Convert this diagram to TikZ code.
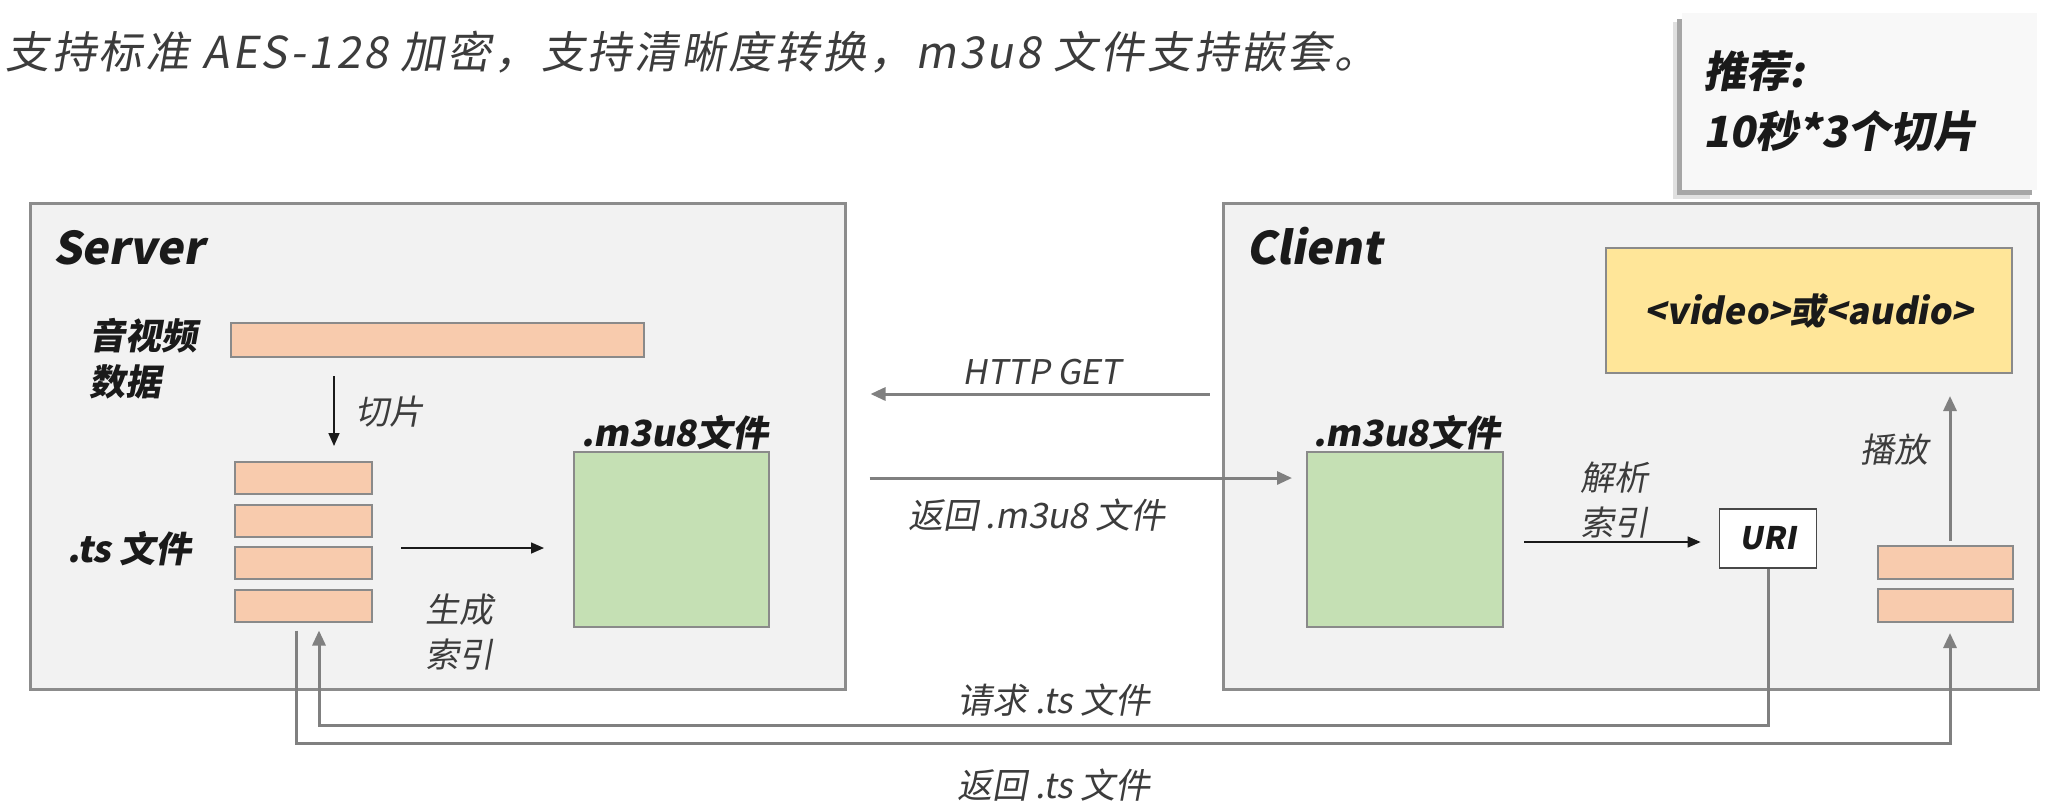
\documentclass[tikz,border=0pt]{standalone}
\usepackage{fontspec}
\setmainfont{Noto Sans CJK SC}
\newfontfamily\zhsl[FakeSlant=0.18]{Noto Sans CJK SC}
\newfontfamily\zhtop[FakeSlant=0.18,LetterSpace=6.5]{Noto Sans CJK SC}
\usetikzlibrary{arrows.meta,calc}
\definecolor{boxgray}{HTML}{F2F2F2}
\definecolor{bordergray}{HTML}{8C8C8C}
\definecolor{peachc}{HTML}{F8CBAD}
\definecolor{greenc}{HTML}{C5E0B4}
\definecolor{yellowc}{HTML}{FFE699}
\definecolor{edgegray}{HTML}{8A8A8A}
\definecolor{arrowgray}{HTML}{808080}
\definecolor{txtdark}{HTML}{1A1A1A}
\definecolor{txtlight}{HTML}{3C3C3C}
\definecolor{recfill}{HTML}{F8F8F8}
\tikzset{
  outerbox/.style={draw=bordergray, line width=3pt, fill=boxgray, inner sep=0pt},
  peachbox/.style={draw=edgegray, line width=2pt, fill=peachc, inner sep=0pt},
  greenbox/.style={draw=edgegray, line width=2pt, fill=greenc, inner sep=0pt, minimum width=195pt, minimum height=175pt},
  yellowbox/.style={draw=edgegray, line width=2pt, fill=yellowc, inner sep=0pt},
  uribox/.style={draw=txtdark!80, line width=1.8pt, fill=white, inner sep=0pt},
  recbox/.style={draw=none, fill=recfill, inner sep=0pt},
  tsbox/.style={peachbox, minimum width=137pt, minimum height=32pt},
  ctsbox/.style={peachbox, minimum width=135pt, minimum height=33pt},
  blackarrow/.style={draw=txtdark, line width=1.6pt, -{Triangle[length=13pt,width=11pt]}},
  grayarrow/.style={draw=arrowgray, line width=3pt, -{Triangle[length=15pt,width=13pt]}},
  boldlbl/.style={inner sep=0pt, text=txtdark, font=\zhsl\bfseries\fontsize{36pt}{46pt}\selectfont},
  lightlbl/.style={inner sep=0pt, text=txtlight, font=\zhsl\fontsize{34pt}{45pt}\selectfont},
  titlelbl/.style={inner sep=0pt, text=txtdark, font=\zhsl\bfseries\fontsize{45pt}{50pt}\selectfont},
}
\begin{document}
\begin{tikzpicture}[x=1pt,y=-1pt]
\path[use as bounding box, fill=white] (0,0) rectangle (2055,807);

% top text
\node[inner sep=0pt, anchor=west, text=txtlight, font=\zhtop\fontsize{44pt}{50pt}\selectfont] (toptext) at (5,52) {支持标准 AES-128 加密，支持清晰度转换，m3u8 文件支持嵌套。};

% recommendation box with shadow (left and bottom)
\fill[black!12] (1673,22) rectangle (2030,199);
\fill[black!35] (1677,19) rectangle (2032,195);
\node[recbox, minimum width=355pt, minimum height=177pt] (rec) at (1859.5,101.5) {};
\node[titlelbl, anchor=west, font=\zhsl\bfseries\fontsize{43pt}{50pt}\selectfont] (rec1) at (1703,71) {推荐:};
\node[titlelbl, anchor=west, font=\zhsl\bfseries\fontsize{43pt}{50pt}\selectfont] (rec2) at (1703,131) {10秒*3个切片};

% outer boxes
\node[outerbox, minimum width=815pt, minimum height=486pt] (server) at (437.5,446) {};
\node[outerbox, minimum width=815pt, minimum height=486pt] (client) at (1630.5,446) {};
\node[titlelbl, anchor=base west] (servert) at (53,264) {Server};
\node[titlelbl, anchor=base west] (clientt) at (1246,264) {Client};

% server contents
\node[boldlbl, anchor=west, align=left] (avdata) at (89,359) {音视频\\数据};
\node[peachbox, minimum width=413pt, minimum height=34pt] (bar) at (437.5,340) {};
\node[tsbox] (ts1) at (303.5,478) {};
\node[tsbox] (ts2) at (303.5,520.5) {};
\node[tsbox] (ts3) at (303.5,563) {};
\node[tsbox] (ts4) at (303.5,605.5) {};
\node[boldlbl, anchor=west] (tslbl) at (67,549) {.ts 文件};
\node[greenbox] (sgreen) at (671.5,539.5) {};
\node[boldlbl, anchor=base west] (sm3u8) at (581,446) {.m3u8文件};
\node[lightlbl, anchor=west] (qplbl) at (355,412) {切片};
\node[lightlbl, align=center] (sclbl) at (459.5,632) {生成\\索引};

% client contents
\node[yellowbox, minimum width=406pt, minimum height=125pt] (player) at (1809,310.5) {};
\node[boldlbl, font=\zhsl\bfseries\fontsize{36pt}{40pt}\selectfont] (playerlbl) at (player) {<video>或<audio>};
\node[greenbox, minimum width=196pt] (cgreen) at (1405,539.5) {};
\node[boldlbl, anchor=base west] (cm3u8) at (1313,446) {.m3u8文件};
\node[uribox, minimum width=97pt, minimum height=59pt, font=\zhsl\bfseries\fontsize{31pt}{34pt}\selectfont, text=txtdark] (uri) at (1768,538.5) {URI};
\node[ctsbox] (cts1) at (1945,562.5) {};
\node[ctsbox] (cts2) at (1945,605.5) {};
\node[lightlbl, align=center] (jxlbl) at (1614.5,500) {解析\\索引};
\node[lightlbl] (bflbl) at (1894,450) {播放};

% helper coordinates
\coordinate (qx) at (334,0);
\coordinate (gy) at (0,548);
\coordinate (hy) at (0,394);
\coordinate (ry) at (0,478);
\coordinate (jy) at (0,542);
\coordinate (px) at (1950,0);
\coordinate (req) at (319,725);
\coordinate (ret) at (296,743);

% arrows
\draw[blackarrow, shorten <=18pt, shorten >=15pt] (bar.south -| qx) -- (ts1.north -| qx);
\draw[blackarrow, shorten <=28pt, shorten >=29pt] (ts3.east |- gy) -- (sgreen.west |- gy);
\draw[grayarrow, shorten <=12pt, shorten >=24pt] (client.west |- hy) -- (server.east |- hy);
\node[lightlbl] (httplbl) at (1042,372) {HTTP GET};
\draw[grayarrow, shorten <=23pt, shorten >=14pt] (server.east |- ry) -- (cgreen.west |- ry);
\node[lightlbl, font=\zhsl\fontsize{35pt}{45pt}\selectfont] (retm3u8) at (1037,515) {返回 .m3u8 文件};
\draw[blackarrow, shorten <=20pt, shorten >=18pt] (cgreen.east |- jy) -- (uri.west |- jy);
\draw[grayarrow, shorten <=4pt, shorten >=22pt] (cts1.north -| px) -- (player.south -| px);
\draw[grayarrow, shorten >=8pt] (uri.south) |- (req) -- (ts4.south -| req);
\node[lightlbl, font=\zhsl\fontsize{35pt}{40pt}\selectfont] (reqlbl) at (1054,700) {请求 .ts 文件};
\draw[grayarrow, shorten <=8pt, shorten >=10pt] (ts4.south -| ret) -- (ret) -| (cts2.south -| px);
\node[lightlbl, font=\zhsl\fontsize{35pt}{40pt}\selectfont] (retlbl) at (1054,785) {返回 .ts 文件};
\end{tikzpicture}
\end{document}
